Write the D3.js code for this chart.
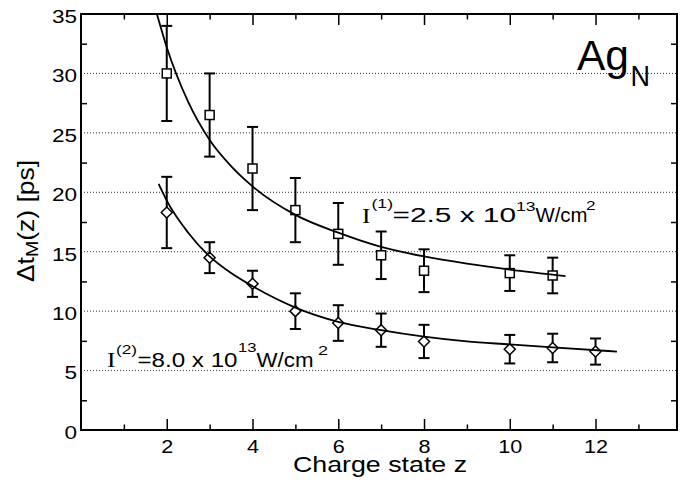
<html>
<head>
	<script src="https://d3js.org/d3.v7.min.js" charset="utf-8"></script>
	<style type="text/css">
	body { margin: 0; background: white; }
	text { font-family: "Liberation Sans", Arial, sans-serif; fill: black; }
	</style>
</head>
<body>
<script type="text/javascript">
	// data
	var zLow = [2, 3, 4, 5, 6, 7, 8, 10, 11];            // I(1) = 2.5e13, squares
	var dtLow = [30.0, 26.5, 22.0, 18.5, 16.5, 14.7, 13.4, 13.2, 13.0];
	var errLow = [4.0, 3.5, 3.5, 2.7, 2.6, 2.0, 1.8, 1.5, 1.5];

	var zHigh = [2, 3, 4, 5, 6, 7, 8, 10, 11, 12];       // I(2) = 8.0e13, diamonds
	var dtHigh = [18.3, 14.5, 12.3, 10.0, 9.0, 8.4, 7.45, 6.8, 6.9, 6.6];
	var errHigh = [3.0, 1.3, 1.1, 1.5, 1.5, 1.4, 1.4, 1.2, 1.2, 1.1];

	// fitted curves, sampled from the figure
	var fitZLow = [1.77, 2, 2.5, 3, 3.5, 4, 5, 6, 7, 8, 9, 10, 11.3];
	var fitDtLow = [35, 32.2, 27.6, 24.4, 22.2, 20.5, 18.1, 16.6, 15.4, 14.6, 14.0, 13.5, 12.95];
	var fitZHigh = [1.81, 2, 2.5, 3, 3.5, 4, 5, 6, 7, 8, 9, 10, 11, 12.5];
	var fitDtHigh = [20.7, 19.3, 16.6, 14.6, 13.2, 12.1, 10.3, 9.1, 8.4, 7.85, 7.45, 7.2, 6.95, 6.6];

	var xMajor = [2, 4, 6, 8, 10, 12];
	var xMinor = [1, 3, 5, 7, 9, 11, 13];
	var yMajor = [0, 5, 10, 15, 20, 25, 30, 35];
	var yMinor = [2.5, 7.5, 12.5, 17.5, 22.5, 27.5, 32.5];
	var yGrid = [5, 10, 15, 20, 25, 30];

	var w = 691;
	var h = 486;
	var pLeft = 81, pRight = 677, pTop = 14, pBottom = 430;

	var svg = d3.select("body")
		.append("svg")
		.attr("width", w)
		.attr("height", h);

	var x = d3.scaleLinear().domain([0, 13.9]).range([pLeft, pRight]);
	var y = d3.scaleLinear().domain([0, 35]).range([pBottom, pTop]);

	//dotted grid
	svg.selectAll(".grid")
		.data(yGrid)
		.enter().append("line")
		.attr("x1", pLeft).attr("x2", pRight)
		.attr("y1", function(d) {return y(d);})
		.attr("y2", function(d) {return y(d);})
		.attr("stroke", "#333")
		.attr("stroke-width", 1)
		.attr("stroke-dasharray", "1,2");

	//ticks (all pointing inward)
	function tickAxis(axis, tx, ty) {
		var g = svg.append("g")
			.attr("transform", "translate(" + tx + "," + ty + ")")
			.call(axis);
		g.select(".domain").remove();
		g.selectAll("line").attr("stroke", "black").attr("stroke-width", 1.5);
		return g;
	}
	tickAxis(d3.axisBottom(x).tickValues(xMajor).tickSizeInner(-11).tickSizeOuter(0).tickFormat(""), 0, pBottom);
	tickAxis(d3.axisBottom(x).tickValues(xMinor).tickSizeInner(-5.5).tickSizeOuter(0).tickFormat(""), 0, pBottom);
	tickAxis(d3.axisTop(x).tickValues(xMajor).tickSizeInner(-11).tickSizeOuter(0).tickFormat(""), 0, pTop);
	tickAxis(d3.axisTop(x).tickValues(xMinor).tickSizeInner(-5.5).tickSizeOuter(0).tickFormat(""), 0, pTop);
	tickAxis(d3.axisLeft(y).tickValues(yMinor).tickSizeInner(-6).tickSizeOuter(0).tickFormat(""), pLeft, 0);
	tickAxis(d3.axisRight(y).tickValues(yMinor).tickSizeInner(-6).tickSizeOuter(0).tickFormat(""), pRight, 0);

	//tick labels
	var gx = svg.append("g")
		.attr("transform", "translate(0," + pBottom + ")")
		.call(d3.axisBottom(x).tickValues(xMajor).tickSize(0).tickPadding(10).tickFormat(d3.format("d")));
	gx.select(".domain").remove();
	gx.attr("font-size", 18).attr("font-family", "Liberation Sans, Arial, sans-serif");
	gx.selectAll("text")
		.attr("fill", "black")
		.attr("transform", "scale(1.2,1)");

	var gy = svg.append("g")
		.attr("transform", "translate(" + pLeft + ",0)")
		.call(d3.axisLeft(y).tickValues(yMajor).tickSize(0).tickPadding(3.3).tickFormat(d3.format("d")));
	gy.select(".domain").remove();
	gy.attr("font-size", 18.5).attr("font-family", "Liberation Sans, Arial, sans-serif");
	gy.selectAll("text")
		.attr("fill", "black")
		.attr("dy", "0.45em")
		.attr("transform", "scale(1.22,1)");

	//frame
	svg.append("rect")
		.attr("x", pLeft).attr("y", pTop)
		.attr("width", pRight - pLeft).attr("height", pBottom - pTop)
		.attr("fill", "none")
		.attr("stroke", "black")
		.attr("stroke-width", 2);

	//axis titles
	svg.append("text")
		.attr("transform", "translate(380,472) scale(1.19,1)")
		.attr("text-anchor", "middle")
		.attr("font-size", 22.5)
		.text("Charge state z");

	var yt = svg.append("text")
		.attr("transform", "translate(33.5,221) rotate(-90) scale(1.15,1)")
		.attr("text-anchor", "middle")
		.attr("font-size", 23);
	yt.append("tspan").text("\u0394t");
	yt.append("tspan").attr("font-size", 17).attr("dy", 4.8).text("M");
	yt.append("tspan").attr("dy", -4.8).text("(z) [ps]");

	//error bars, markers, fits
	function errorBars(zs, vals, errs) {
		var g = svg.append("g").attr("stroke", "black").attr("stroke-width", 2);
		for (var i=0; i<zs.length; i++) {
			var cx = x(zs[i]);
			var y0 = y(vals[i] - errs[i]);
			var y1 = y(vals[i] + errs[i]);
			g.append("line").attr("x1", cx).attr("x2", cx).attr("y1", y0).attr("y2", y1);
			g.append("line").attr("x1", cx-5.5).attr("x2", cx+5.5).attr("y1", y0).attr("y2", y0);
			g.append("line").attr("x1", cx-5.5).attr("x2", cx+5.5).attr("y1", y1).attr("y2", y1);
		}
	}
	errorBars(zLow, dtLow, errLow);
	errorBars(zHigh, dtHigh, errHigh);

	svg.selectAll(".sq")
		.data(d3.zip(zLow, dtLow))
		.enter().append("rect")
		.attr("x", function(d) {return x(d[0]) - 4.5;})
		.attr("y", function(d) {return y(d[1]) - 4.5;})
		.attr("width", 9).attr("height", 9)
		.attr("fill", "white")
		.attr("stroke", "black")
		.attr("stroke-width", 1.5);

	svg.selectAll(".dia")
		.data(d3.zip(zHigh, dtHigh))
		.enter().append("path")
		.attr("d", function(d) {
			var cx = x(d[0]), cy = y(d[1]), r = 5.5;
			return "M" + cx + "," + (cy-r) + "L" + (cx+r) + "," + cy + "L" + cx + "," + (cy+r) + "L" + (cx-r) + "," + cy + "Z";
		})
		.attr("fill", "white")
		.attr("stroke", "black")
		.attr("stroke-width", 1.5);

	var fitLine = d3.line()
		.x(function(d) {return x(d[0]);})
		.y(function(d) {return y(d[1]);})
		.curve(d3.curveMonotoneX);
	svg.append("path")
		.attr("d", fitLine(d3.zip(fitZLow, fitDtLow)))
		.attr("fill", "none").attr("stroke", "black").attr("stroke-width", 1.8);
	svg.append("path")
		.attr("d", fitLine(d3.zip(fitZHigh, fitDtHigh)))
		.attr("fill", "none").attr("stroke", "black").attr("stroke-width", 1.8);

	//labels
	function piece(str, px, py, size, len, family) {
		var t = svg.append("text")
			.attr("x", px).attr("y", py)
			.attr("font-size", size)
			.text(str);
		if (family) t.style("font-family", family);
		if (len) t.attr("textLength", len).attr("lengthAdjust", "spacingAndGlyphs");
		return t;
	}
	var serif = "'Liberation Serif', 'Times New Roman', serif";

	piece("I", 362, 223.3, 21, 8.5, serif);
	piece("(1)", 371.5, 208, 13, 21.5);
	piece("=2.5 x 10", 392.5, 222.3, 19.5, 123.5);
	piece("13", 516, 210.7, 12.5, 19.5);
	piece("W/cm", 535.5, 222.3, 19.5, 52);
	piece("2", 586, 210, 12.5, 9.5);

	piece("I", 107, 367.3, 21, 8.5, serif);
	piece("(2)", 116, 354, 13, 21);
	piece("=8.0 x 10", 137.5, 367, 19.5, 100);
	piece("13", 238, 352, 12.5, 18.5);
	piece("W/cm", 256.5, 367, 19.5, 57);
	piece("2", 318, 355, 12.5, 10);

	piece("Ag", 577, 70, 43, 52);
	piece("N", 630.5, 86, 29, 19.5);
</script>
</body>
</html>
